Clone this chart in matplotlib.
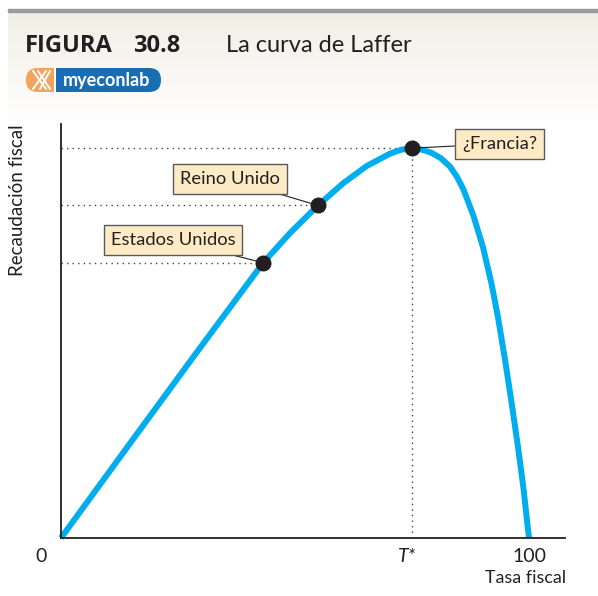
import matplotlib
matplotlib.use("Agg")
import matplotlib.pyplot as plt
import numpy as np
from matplotlib.patches import FancyBboxPatch, Rectangle

# ---- data ----
tax_rate = [0, 14.4, 28.8, 43.2, 49.0, 54.9, 60.3, 65.3, 70.3, 72.7, 75.0,
            77.2, 79.2, 81.2, 83.1, 84.6, 86.0, 88.1, 90.2, 92.0, 93.4, 94.9,
            96.3, 97.7, 98.8, 100.0]
revenue = [0, 23.7, 47.3, 70.6, 78.3, 85.3, 91.0, 95.4, 98.6, 99.6, 100.0,
           99.6, 98.8, 97.4, 95.3, 92.7, 89.4, 82.8, 74.5, 65.2, 56.5, 45.6,
           34.6, 23.0, 13.0, 0]
countries = ["Estados Unidos", "Reino Unido", "¿Francia?"]
country_x = [43.2, 54.9, 75.0]
country_y = [70.6, 85.3, 100.0]
tick_pos = [0, 75, 100]
tick_labels = ["0", "T*", "100"]

W, H = 598, 596
fig = plt.figure(figsize=(W / 100, H / 100), dpi=100)
FONT = ["Lato", "DejaVu Sans"]
plt.rcParams['font.family'] = FONT
DARK = "#231f20"

def fx(px):
    return px / W

def fy(py):
    return 1 - py / H

# header background gradient
bg = fig.add_axes([0, 0, 1, 1], zorder=-10)
bg.set_xlim(0, W)
bg.set_ylim(H, 0)
bg.axis("off")
grad = np.linspace(0, 1, 200)[:, None]
top = np.array([241, 238, 229]) / 255
white = np.array([1, 1, 1])
img = top[None, None, :] * (1 - grad[:, :, None]) + white[None, None, :] * grad[:, :, None]
bg.imshow(img, extent=[8, W, 125, 11], aspect="auto", zorder=0)
bg.add_patch(Rectangle((8, 9), W - 8, 2.5, color="#9a9a9a", zorder=1))

# title
fig.text(fx(25), fy(52), "FIGURA", fontsize=17, fontweight="bold", color=DARK,
         ha="left", va="baseline", family=["Open Sans", "DejaVu Sans"])
fig.text(fx(133), fy(52), "30.8", fontsize=17, fontweight="bold", color=DARK,
         ha="left", va="baseline", family=["Open Sans", "DejaVu Sans"])
fig.text(fx(226), fy(52), "La curva de Laffer", fontsize=17, color=DARK,
         ha="left", va="baseline")

# logo
bg.add_patch(FancyBboxPatch((26, 68), 30, 24, boxstyle="round,pad=0,rounding_size=12",
                            facecolor="#f4a25c", edgecolor="none", zorder=3))
bg.add_patch(Rectangle((42, 68), 12, 24, facecolor="#f4a25c", edgecolor="none", zorder=3))
bg.add_patch(Rectangle((54, 68), 1.5, 24, facecolor="white", edgecolor="none", zorder=4))
bg.add_patch(FancyBboxPatch((137, 68), 24, 24, boxstyle="round,pad=0,rounding_size=12",
                            facecolor="#1a6db2", edgecolor="none", zorder=2))
bg.add_patch(Rectangle((55, 68), 95, 24, facecolor="#1a6db2", edgecolor="none", zorder=2))
for (x0, y0, x1, y1) in [(33, 71, 46, 89), (46, 71, 33, 89), (38, 71, 50, 89), (50, 71, 40, 89)]:
    bg.plot([x0, x1], [y0, y1], color="white", lw=1.4, zorder=5, solid_capstyle="round")
bg.text(107, 80.5, "myeconlab", color="white", fontsize=13, fontweight="bold",
        ha="center", va="center", zorder=5)

# main axes
ax = fig.add_axes([fx(61), fy(538), fx(565) - fx(61), fy(124) - fy(538)])
ax.patch.set_alpha(0)
ax.set_xlim(0, 107.7)
ax.set_ylim(0, 106.2)
for s in ["top", "right"]:
    ax.spines[s].set_visible(False)
for s in ["left", "bottom"]:
    ax.spines[s].set_color(DARK)
    ax.spines[s].set_linewidth(1.3)
ax.set_xticks([])
ax.set_yticks([])

# dotted guide lines
for cx, cy in zip(country_x, country_y):
    ax.plot([0, cx], [cy, cy], color="#444444", lw=1.0, ls=(0, (1, 3)), zorder=1)
ax.plot([country_x[2], country_x[2]], [0, country_y[2]], color="#444444", lw=1.0,
        ls=(0, (1, 3)), zorder=1)

ax.plot(tax_rate, revenue, color="#00adee", lw=4.3, solid_capstyle="butt",
        solid_joinstyle="round", zorder=2, clip_on=False)
ax.plot(country_x, country_y, "o", color=DARK, ms=10.5, zorder=4, clip_on=False)

# labels with leader lines (offsets in points)
label_offsets = [(-65, 16.5), (-63.5, 19), (63, 3.2)]
for name, cx, cy, (ox, oy) in zip(countries, country_x, country_y, label_offsets):
    ax.annotate(name, xy=(cx, cy), xytext=(ox, oy), textcoords="offset points",
                ha="center", va="center", fontsize=13.2, color=DARK,
                bbox=dict(boxstyle="square,pad=0.38", fc="#fdebc6", ec="#5a5a5a", lw=1.0),
                arrowprops=dict(arrowstyle="-", color=DARK, lw=0.8,
                                shrinkA=0, shrinkB=0),
                zorder=5)

# ticks
tick_px = [41, 407, 529]
for tpx, tl in zip(tick_px, tick_labels):
    style = "italic" if tl.startswith("T") else "normal"
    fig.text(fx(tpx), fy(556), tl, fontsize=14, fontstyle=style, color=DARK,
             ha="center", va="center")
fig.text(fx(566), fy(578), "Tasa fiscal", fontsize=12.9, color=DARK,
         ha="right", va="center")
fig.text(fx(18), fy(200), "Recaudación fiscal", fontsize=13.5, color=DARK,
         rotation=90, ha="center", va="center")

fig.savefig("out.png", dpi=100)
